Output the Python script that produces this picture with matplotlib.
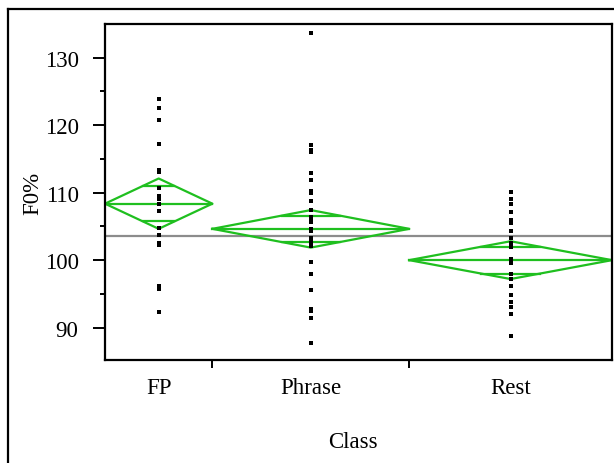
import numpy as np
from matplotlib import pyplot as plt
from matplotlib.lines import Line2D

plt.rcParams['font.family'] = ['Liberation Serif', 'DejaVu Serif']

classes = ["FP", "Phrase", "Rest"]
group_n = [18, 33, 34]  # sample sizes, set the widths of the diamonds
means = [108.37, 104.64, 100.0]
ci_half = [3.73, 2.78, 2.80]  # half height of the means diamonds
grand_mean = 103.55

fp_vals = [123.9, 122.6, 120.7, 117.2, 113.4, 113.0, 110.65, 109.55, 109.1,
           108.3, 107.3, 104.7, 103.8, 102.55, 102.2, 96.15, 95.75, 92.3]
phrase_vals = [133.7, 117.1, 116.35, 116.0, 112.95, 111.85, 110.3, 109.95,
               108.8, 107.45, 106.35, 106.0, 105.6, 104.6, 104.25, 103.3,
               102.9, 102.5, 102.1, 99.7, 97.9, 95.55, 92.8, 92.45, 91.4, 87.7]
rest_vals = [110.05, 109.05, 108.3, 107.2, 106.0, 105.5, 104.35, 103.3, 102.6,
             102.0, 100.15, 99.6, 98.0, 97.2, 96.2, 94.9, 93.8, 93.1, 92.0,
             88.7]
values = [fp_vals, phrase_vals, rest_vals]

green = "#1fbf1f"
fs = 16.5

fig = plt.figure(figsize=(6.14, 4.64), dpi=100)
ax = fig.add_axes([105 / 614, 1 - 361 / 464, 507 / 614, 336 / 464])

edges = np.concatenate([[0], np.cumsum(group_n)])
centers = (edges[:-1] + edges[1:]) / 2

# grand mean line
ax.axhline(grand_mean, color="#8c8c8c", lw=1.6, zorder=1)

for i in range(len(classes)):
    x0, x1, xc = edges[i], edges[i + 1], centers[i]
    m, h = means[i], ci_half[i]
    # diamond
    ax.plot([x0, xc, x1, xc, x0], [m, m + h, m, m - h, m],
            color=green, lw=1.6, zorder=2)
    # mean line
    ax.plot([x0, x1], [m, m], color=green, lw=1.6, zorder=2)
    # overlap marks
    d = h / np.sqrt(2)
    half = (x1 - x0) / 2 * (1 - 1 / np.sqrt(2))
    for s in (1, -1):
        ax.plot([xc - half, xc + half], [m + s * d, m + s * d],
                color=green, lw=1.6, zorder=2)
    ax.plot([xc] * len(values[i]), values[i], ls="none", marker="s",
            ms=2.4, mec="black", mfc="black", mew=0, zorder=3)

ax.set_xlim(0, edges[-1])
ax.set_ylim(85.2, 135.0)

ax.set_yticks([90, 100, 110, 120, 130])
ax.set_yticks([95, 105, 115, 125], minor=True)
ax.tick_params(axis="y", which="major", length=8.5, width=1.4,
               labelsize=fs, pad=10.5)
ax.tick_params(axis="y", which="minor", length=3.6, width=1.4)

ax.set_xticks(centers)
ax.set_xticklabels(classes)
ax.set_xticks(edges[1:-1], minor=True)
ax.tick_params(axis="x", which="major", length=0, labelsize=fs, pad=12)
ax.tick_params(axis="x", which="minor", length=6, width=1.4)

for sp in ax.spines.values():
    sp.set_linewidth(1.6)

ax.set_xlabel("Class", fontsize=fs, va="center")
ax.xaxis.set_label_coords(0.49, -0.244)
ax.set_ylabel("F0%", fontsize=fs, va="center")
ax.yaxis.set_label_coords(-0.142, 0.5)

# outer frame (top and left edges)
fig.add_artist(Line2D([7.5 / 614, 1.0], [1 - 10 / 464, 1 - 10 / 464],
                      transform=fig.transFigure, color="black", lw=1.6))
fig.add_artist(Line2D([7.5 / 614, 7.5 / 614], [0.0, 1 - 10 / 464],
                      transform=fig.transFigure, color="black", lw=1.6))

fig.savefig("out.png", dpi=100)
